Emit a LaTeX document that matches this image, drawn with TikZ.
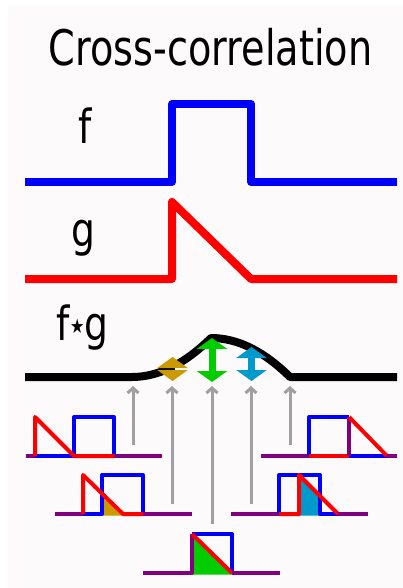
\documentclass[tikz,border=0pt]{standalone}
\usepackage{fontspec}
\setmainfont{DejaVu Sans}
\usetikzlibrary{arrows.meta}
\definecolor{bgcol}{HTML}{FCFAFB}
\definecolor{fblue}{HTML}{0000FF}
\definecolor{gred}{HTML}{FF0000}
\definecolor{mixpurple}{HTML}{800080}
\definecolor{goldc}{HTML}{CC9900}
\definecolor{greenc}{HTML}{00CC00}
\definecolor{cyanc}{HTML}{0099CC}
\definecolor{greyc}{HTML}{A0A0A0}
\tikzset{
  bigline/.style={line width=8pt, line join=round, line cap=butt},
  smallline/.style={line width=4pt, line join=round, line cap=butt},
  labeltext/.style={font=\fontsize{47}{47}\selectfont, xscale=0.8, anchor=base, inner sep=0pt},
  greyarrow/.style={draw=greyc, line width=3pt, -{Straight Barb[length=5pt,width=11pt]}},
  bighead/.tip={Triangle[width=30pt 0,length=11pt 0]},
  dblarrow/.style={line width=7pt, bighead-bighead},
  sglarrow/.style={line width=7pt, -bighead},
}
\begin{document}
\begin{tikzpicture}[x=1pt,y=-1pt]
\useasboundingbox (0,0) rectangle (403,588);
\fill[white] (0,0) rectangle (403,588);
\fill[bgcol] (8,6) rectangle (403,588);

% title and labels
\node[labeltext, font=\fontsize{49}{49}\selectfont, xscale=0.78/0.8] (title) at (210.5,66) {Cross-correlation};
\node[labeltext] (flabel) at (85.5,143) {f};
\node[labeltext] (glabel) at (83,246) {g};
\node[labeltext] (fglabel) at (82.5,340) {f\raisebox{7pt}{\fontsize{20}{20}\selectfont ★}g};

% f
\draw[bigline, fblue] (25,182) -- (172,182) -- (172,104) -- (251,104) -- (251,182) -- (397,182);
% g
\draw[bigline, gred] (25,279) -- (172,279) -- (172,202) -- (251,279) -- (397,279);
% f star g
\draw[bigline, black] (25,377) -- (132,377)
  .. controls (158.33,377) and (184.67,364) .. (211,338)
  .. controls (237.33,338) and (263.67,351) .. (290,377) -- (397,377);

% double arrows
\coordinate (gm1) at (172.5,368); \coordinate (gt) at (172.5,357);
\coordinate (gm2) at (172.5,370); \coordinate (gb) at (172.5,381);
\draw[sglarrow, goldc] (gm1) -- (gt);
\draw[sglarrow, goldc] (gm2) -- (gb);
\draw[line width=2pt, bgcol] (175,369) -- (182,369);
\coordinate (grb) at (212,382); \coordinate (grt) at (212,338);
\draw[dblarrow, greenc] (grb) -- (grt);
\coordinate (cb) at (251.5,381); \coordinate (ct) at (251.5,347);
\draw[dblarrow, cyanc] (cb) -- (ct);

% grey arrows
\coordinate (a1s) at (133,445); \coordinate (a1e) at (133,386);
\coordinate (a2s) at (172,504); \coordinate (a2e) at (172,386);
\coordinate (a3s) at (212,524); \coordinate (a3e) at (212,386);
\coordinate (a4s) at (251,504); \coordinate (a4e) at (251,386);
\coordinate (a5s) at (290,445); \coordinate (a5e) at (290,386);
\draw[greyarrow] (a1s) -- (a1e);
\draw[greyarrow] (a2s) -- (a2e);
\draw[greyarrow] (a3s) -- (a3e);
\draw[greyarrow] (a4s) -- (a4e);
\draw[greyarrow] (a5s) -- (a5e);

% row 1 left
\draw[smallline, mixpurple] (26,456) -- (35,456);
\draw[smallline, fblue] (35,456) -- (74,456) -- (74,417) -- (114,417) -- (114,456);
\draw[smallline, gred] (35,456) -- (35,417) -- (74,456) -- (114,456);
\draw[smallline, mixpurple] (114,456) -- (162,456);

% row 1 right
\draw[smallline, mixpurple] (261,456) -- (309,456);
\draw[smallline, fblue] (309,456) -- (309,417) -- (349,417);
\draw[smallline, gred] (309,456) -- (349,456);
\draw[smallline, fblue] (349,456) -- (387,456);
\draw[smallline, mixpurple] (349,456) -- (349,417);
\draw[smallline, gred] (349,417) -- (387,456);
\draw[smallline, mixpurple] (387,456) -- (397,456);

% row 2 left
\fill[goldc] (102,493.5) -- (123,514) -- (123,515.5) -- (102,515.5) -- cycle;
\draw[smallline, mixpurple] (55,514) -- (83,514);
\draw[smallline, fblue] (83,514) -- (102,514) -- (102,475) -- (143,475) -- (143,514);
\draw[smallline, gred] (83,514) -- (83,475) -- (123,514) -- (143,514);
\draw[smallline, mixpurple] (143,514) -- (192,514);

% row 2 right
\fill[cyanc] (299,475) -- (320,495.5) -- (320,515.5) -- (299,515.5) -- cycle;
\draw[smallline, mixpurple] (231,514) -- (279,514);
\draw[smallline, fblue] (279,514) -- (279,475) -- (320,475) -- (320,514) -- (338,514);
\draw[smallline, gred] (279,514) -- (299,514) -- (299,475) -- (338,514);
\draw[smallline, mixpurple] (338,514) -- (368,514);

% row 3 centre
\fill[greenc] (192,534) -- (232,573) -- (232,574.5) -- (192,574.5) -- cycle;
\draw[smallline, mixpurple] (143,573) -- (192,573) -- (192,534);
\draw[smallline, fblue] (192,534) -- (232,534) -- (232,573);
\draw[smallline, gred] (192,534) -- (232,573);
\draw[smallline, mixpurple] (232,573) -- (280,573);
\end{tikzpicture}
\end{document}
